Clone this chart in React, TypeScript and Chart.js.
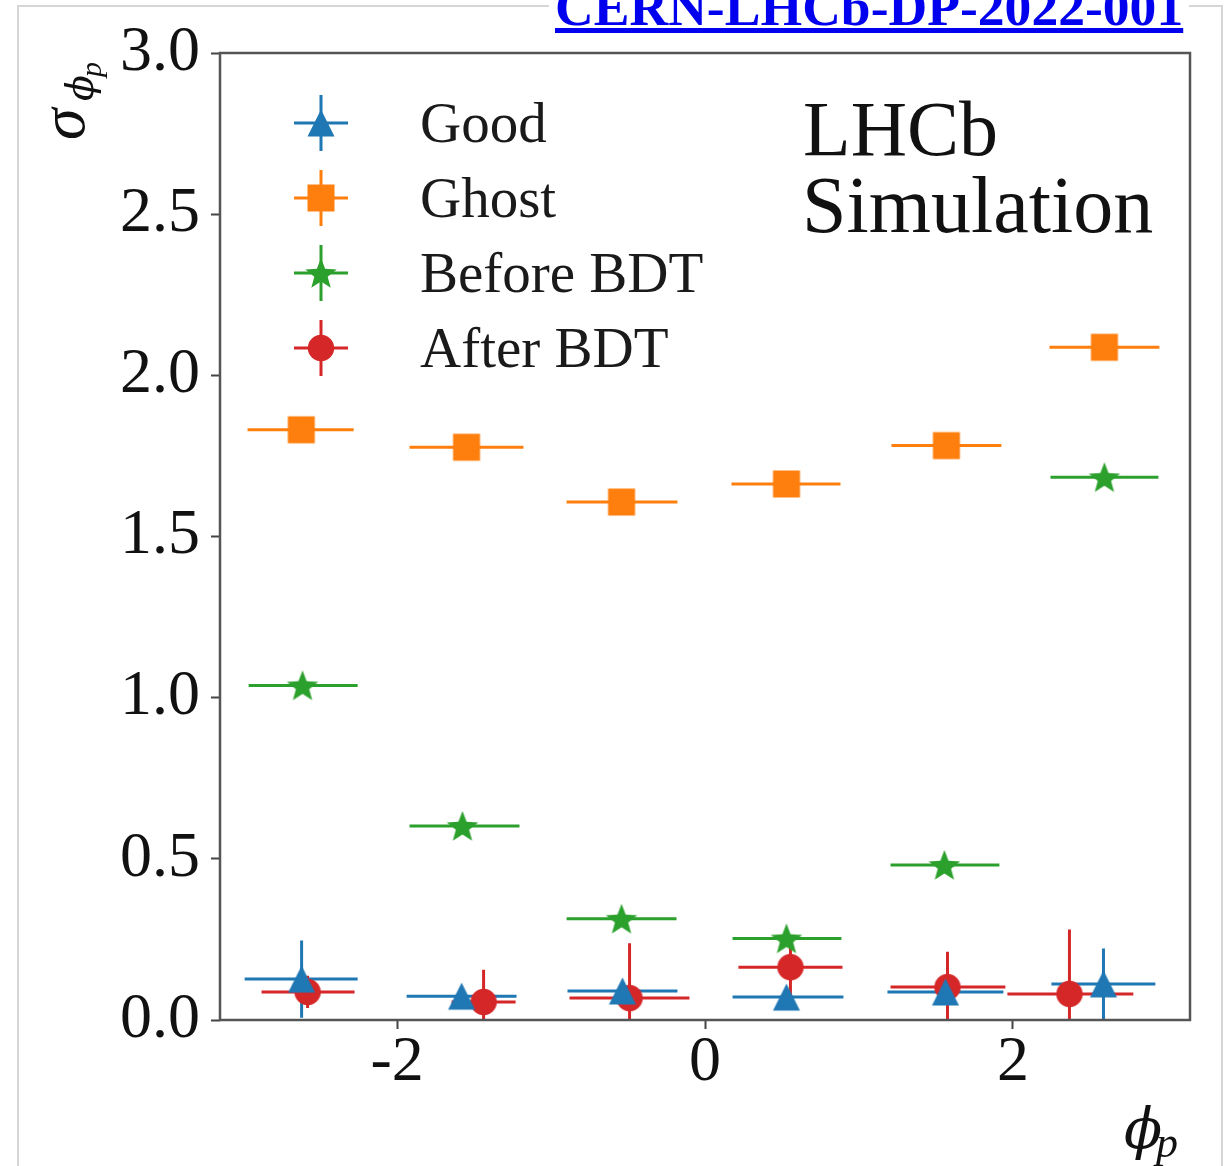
import React, { useEffect, useRef } from "react";
import { Chart, registerables } from "chart.js";

Chart.register(...registerables);

// ---- axis ticks & labels ----
const xTicks = [-2, 0, 2];
const yTicks = [0, 0.5, 1.0, 1.5, 2.0, 2.5, 3.0];
const seriesLabels = ["Good", "Ghost", "Before BDT", "After BDT"];

// ---- Good (blue triangles) ----
const goodX = [-2.62, -1.581, -0.536, 0.529, 1.562, 2.588];
const goodXLow = [-2.99, -1.938, -0.893, 0.179, 1.185, 2.25];
const goodXHigh = [-2.256, -1.224, -0.179, 0.899, 1.938, 2.925];
const goodY = [0.127, 0.074, 0.09, 0.071, 0.087, 0.112];
const goodYErr = [0.12, 0.02, 0.02, 0.02, 0.02, 0.11];

// ---- Ghost (orange squares) ----
const ghostX = [-2.622, -1.549, -0.542, 0.529, 1.568, 2.594];
const ghostXLow = [-2.971, -1.919, -0.899, 0.172, 1.211, 2.237];
const ghostXHigh = [-2.282, -1.179, -0.179, 0.88, 1.925, 2.951];
const ghostY = [1.831, 1.777, 1.607, 1.663, 1.782, 2.087];
const ghostYErr = [0.03, 0.03, 0.03, 0.03, 0.03, 0.03];

// ---- Before BDT (green stars) ----
const beforeX = [-2.614, -1.575, -0.542, 0.529, 1.555, 2.594];
const beforeXLow = [-2.964, -1.919, -0.899, 0.179, 1.205, 2.244];
const beforeXHigh = [-2.256, -1.205, -0.185, 0.886, 1.912, 2.945];
const beforeY = [1.038, 0.602, 0.314, 0.253, 0.481, 1.684];
const beforeYErr = [0.02, 0.02, 0.02, 0.02, 0.02, 0.02];

// ---- After BDT (red circles) ----
const afterX = [-2.581, -1.438, -0.49, 0.555, 1.575, 2.367];
const afterXLow = [-2.88, -1.646, -0.88, 0.217, 1.205, 1.964];
const afterXHigh = [-2.276, -1.23, -0.101, 0.893, 1.951, 2.782];
const afterY = [0.087, 0.056, 0.068, 0.164, 0.102, 0.081];
const afterYErr = [0.05, 0.1, 0.17, 0.09, 0.11, 0.2];

const colors = ["#1f77b4", "#ff7f0e", "#2ca02c", "#d62728"];
const markers = ["triangle", "square", "star", "circle"];

const series = [
  { label: seriesLabels[0], color: colors[0], marker: markers[0], x: goodX, xLo: goodXLow, xHi: goodXHigh, y: goodY, yErr: goodYErr },
  { label: seriesLabels[1], color: colors[1], marker: markers[1], x: ghostX, xLo: ghostXLow, xHi: ghostXHigh, y: ghostY, yErr: ghostYErr },
  { label: seriesLabels[2], color: colors[2], marker: markers[2], x: beforeX, xLo: beforeXLow, xHi: beforeXHigh, y: beforeY, yErr: beforeYErr },
  { label: seriesLabels[3], color: colors[3], marker: markers[3], x: afterX, xLo: afterXLow, xHi: afterXHigh, y: afterY, yErr: afterYErr },
];

const SERIF = '"Liberation Serif", "Times New Roman", serif';
const MATH = '"DejaVu Serif", "Liberation Serif", serif';

function makeMarker(kind: string, color: string): HTMLCanvasElement {
  const size = 38;
  const c = document.createElement("canvas");
  c.width = size;
  c.height = size;
  const g = c.getContext("2d")!;
  g.fillStyle = color;
  g.translate(size / 2, size / 2);
  g.beginPath();
  if (kind === "triangle") {
    g.moveTo(0, -13.5);
    g.lineTo(13.5, 13.5);
    g.lineTo(-13.5, 13.5);
    g.closePath();
  } else if (kind === "square") {
    g.rect(-13.5, -13.5, 27, 27);
  } else if (kind === "circle") {
    g.arc(0, 0, 13.2, 0, Math.PI * 2);
  } else {
    for (let k = 0; k < 10; k++) {
      const r = k % 2 === 0 ? 16.5 : 7;
      const a = -Math.PI / 2 + (k * Math.PI) / 5;
      const px = r * Math.cos(a);
      const py = r * Math.sin(a) + 1.5;
      if (k === 0) g.moveTo(px, py);
      else g.lineTo(px, py);
    }
    g.closePath();
  }
  g.fill();
  return c;
}

export default function App() {
  const ref = useRef<HTMLCanvasElement>(null);

  useEffect(() => {
    const canvas = ref.current!;
    const markerImgs = series.map((s) => makeMarker(s.marker, s.color));

    const errorBars = {
      id: "errorBars",
      beforeDatasetsDraw(chart: any) {
        const { ctx, chartArea } = chart;
        const xs = chart.scales.x;
        const ys = chart.scales.y;
        ctx.save();
        ctx.beginPath();
        ctx.rect(chartArea.left, chartArea.top, chartArea.right - chartArea.left, chartArea.bottom - chartArea.top);
        ctx.clip();
        ctx.lineWidth = 3;
        ctx.lineCap = "butt";
        series.forEach((s) => {
          ctx.strokeStyle = s.color;
          for (let i = 0; i < s.x.length; i++) {
            const py = ys.getPixelForValue(s.y[i]);
            const px = xs.getPixelForValue(s.x[i]);
            ctx.beginPath();
            ctx.moveTo(xs.getPixelForValue(s.xLo[i]), py);
            ctx.lineTo(xs.getPixelForValue(s.xHi[i]), py);
            ctx.moveTo(px, ys.getPixelForValue(s.y[i] - s.yErr[i]));
            ctx.lineTo(px, ys.getPixelForValue(s.y[i] + s.yErr[i]));
            ctx.stroke();
          }
        });
        ctx.restore();
      },
    };

    const decorations = {
      id: "decorations",
      afterDatasetsDraw(chart: any) {
        const { ctx, chartArea } = chart;
        ctx.save();
        ctx.strokeStyle = "#555";
        ctx.lineWidth = 2.5;
        ctx.strokeRect(chartArea.left, chartArea.top, chartArea.right - chartArea.left, chartArea.bottom - chartArea.top);
        ctx.restore();
      },
      afterDraw(chart: any) {
        const ctx = chart.ctx as CanvasRenderingContext2D;
        ctx.save();
        // legend
        series.forEach((s, i) => {
          const cy = 123 + 75 * i;
          const cx = 321;
          ctx.strokeStyle = s.color;
          ctx.lineWidth = 3;
          ctx.beginPath();
          ctx.moveTo(cx - 27, cy);
          ctx.lineTo(cx + 27, cy);
          ctx.moveTo(cx, cy - 28);
          ctx.lineTo(cx, cy + 28);
          ctx.stroke();
          const img = markerImgs[i];
          ctx.drawImage(img, cx - img.width / 2, cy - img.height / 2);
          ctx.fillStyle = "#1a1a1a";
          ctx.font = `57px ${SERIF}`;
          ctx.textBaseline = "alphabetic";
          ctx.textAlign = "left";
          ctx.fillText(s.label, 420, cy + 19);
        });
        // LHCb Simulation
        ctx.fillStyle = "#111";
        ctx.font = `78px ${SERIF}`;
        ctx.fillText("LHCb", 803, 155);
        ctx.font = `80px ${SERIF}`;
        ctx.fillText("Simulation", 802, 232);
        // y axis title (rotated)
        ctx.save();
        ctx.translate(84, 140);
        ctx.rotate(-Math.PI / 2);
        ctx.fillStyle = "#111";
        ctx.font = `italic 64px ${SERIF}`;
        ctx.fillText("σ", 0, 0);
        ctx.font = `italic 38px ${MATH}`;
        ctx.fillText("ϕ", 39, 9);
        ctx.font = `italic 30px ${SERIF}`;
        ctx.fillText("p", 63, 17);
        ctx.restore();
        // x axis title
        ctx.fillStyle = "#111";
        ctx.font = `italic 56px ${MATH}`;
        ctx.fillText("ϕ", 1124, 1148);
        ctx.font = `italic 44px ${SERIF}`;
        ctx.fillText("p", 1156, 1157);
        ctx.restore();
      },
    };

    const chart = new Chart(canvas, {
      type: "scatter",
      data: {
        datasets: series.map((s, i) => ({
          label: s.label,
          data: s.x.map((v, k) => ({ x: v, y: s.y[k] })),
          pointStyle: markerImgs[i] as any,
          pointRadius: 10,
          pointHoverRadius: 10,
          backgroundColor: s.color,
          borderColor: s.color,
          showLine: false,
        })),
      },
      options: {
        animation: false,
        responsive: false,
        events: [],
        layout: { padding: { left: 0, top: 53, right: 40, bottom: 0 } },
        plugins: {
          legend: { display: false },
          tooltip: { enabled: false },
          title: { display: false },
        },
        scales: {
          x: {
            type: "linear",
            min: -3.15,
            max: 3.15,
            afterFit: (scale: any) => {
              scale.height = 146;
            },
            afterBuildTicks: (scale: any) => {
              scale.ticks = xTicks.map((v) => ({ value: v }));
            },
            border: { display: false },
            grid: {
              drawOnChartArea: false,
              drawTicks: true,
              tickLength: 9,
              tickWidth: 2,
              tickColor: "#444",
            },
            ticks: {
              color: "#111",
              padding: 2,
              maxRotation: 0,
              font: { family: SERIF, size: 64, lineHeight: 1 },
              callback: (v: any) => String(v),
            },
          },
          y: {
            type: "linear",
            min: 0,
            max: 3,
            afterFit: (scale: any) => {
              scale.width = 220;
            },
            afterBuildTicks: (scale: any) => {
              scale.ticks = yTicks.map((v) => ({ value: v }));
            },
            border: { display: false },
            grid: {
              drawOnChartArea: false,
              drawTicks: true,
              tickLength: 9,
              tickWidth: 2,
              tickColor: "#444",
            },
            ticks: {
              color: "#111",
              padding: 11,
              font: { family: SERIF, size: 64, lineHeight: 1 },
              callback: (v: any) => Number(v).toFixed(1),
            },
          },
        },
      },
      plugins: [errorBars, decorations],
    });
    return () => chart.destroy();
  }, []);

  return (
    <div
      style={{
        position: "absolute",
        left: 0,
        top: 0,
        width: 1230,
        height: 1166,
        overflow: "hidden",
        background: "#fff",
      }}
    >
      <div
        style={{
          position: "absolute",
          left: 17,
          top: 5,
          width: 1206,
          height: 1300,
          border: "2px solid #d6d6d6",
          boxSizing: "border-box",
        }}
      />
      <canvas
        ref={ref}
        width={1230}
        height={1166}
        style={{ position: "absolute", left: 0, top: 0, display: "block" }}
      />
      <a
        href="#"
        style={{
          position: "absolute",
          left: 549,
          top: -19,
          padding: "0 6px",
          background: "#fff",
          color: "#0000ee",
          fontFamily: SERIF,
          fontWeight: "bold",
          fontSize: 53.6,
          lineHeight: 1,
          textDecoration: "underline",
          whiteSpace: "nowrap",
        }}
      >
        CERN-LHCb-DP-2022-001
      </a>
    </div>
  );
}
